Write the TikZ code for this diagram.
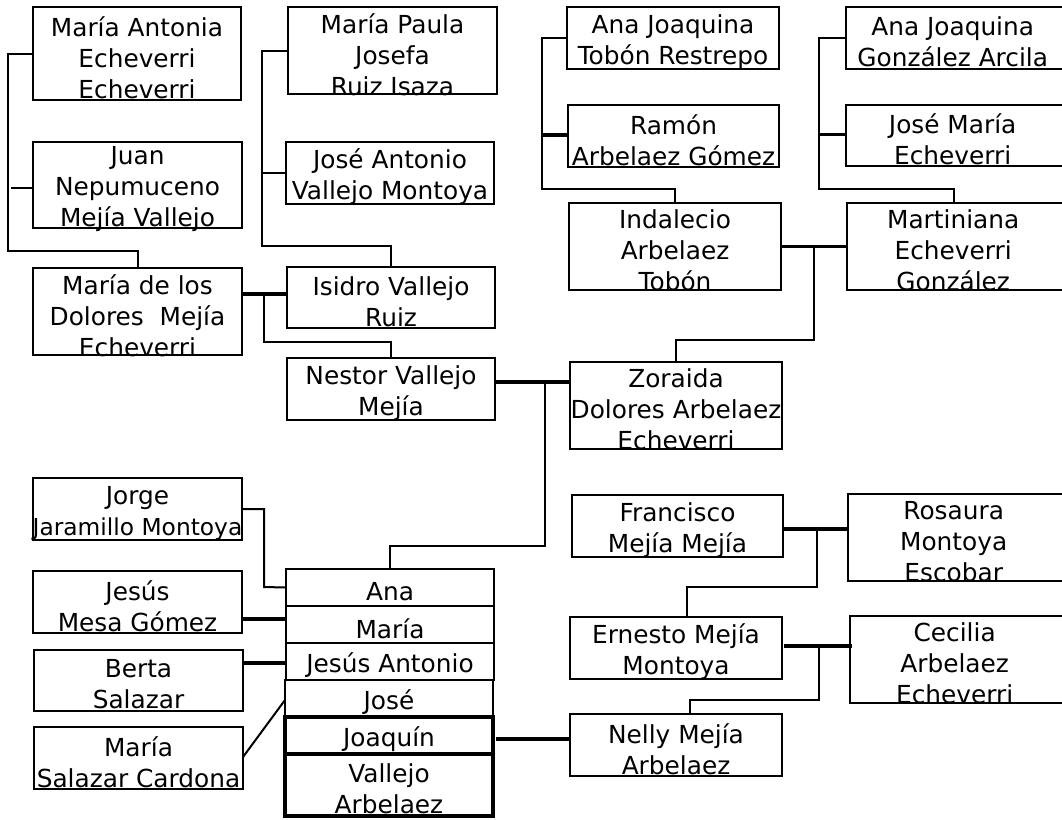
\documentclass[tikz,border=0pt]{standalone}
\usepackage{fontspec}
\setmainfont{DejaVu Sans}
\usetikzlibrary{fit,calc}
\begin{document}
\begin{tikzpicture}[x=0.75pt,y=-0.75pt,
  box/.style={draw=black, line width=1.8pt, inner sep=0pt, outer sep=0pt},
  boldbox/.style={box, line width=3pt},
  txt/.style={align=center, inner sep=0pt, font=\fontsize{18.6}{23.4}\selectfont, yshift=-3pt},
  rtxt/.style={txt, xshift=-2.5pt},
  thinl/.style={line width=1.5pt},
  thickl/.style={line width=2.6pt}]
\useasboundingbox (0,0) rectangle (1062,819);
\clip (0,0) rectangle (1062,819);
% ---------- boxes ----------
\node[box, fit={(33,7)(241,100)}, label={[txt]center:{María Antonia\\Echeverri\\Echeverri}}] (mae) {};
\node[box, fit={(33,142)(242,228)}, label={[txt]center:{Juan\\Nepumuceno\\Mejía Vallejo}}] (jnm) {};
\node[box, fit={(33,268)(242,355)}, label={[txt]center:{María de los\\Dolores\ \ Mejía\\Echeverri}}] (mdd) {};
\node[box, fit={(288,7)(497,94)}, label={[txt]center:{María Paula\\Josefa\\Ruiz Isaza}}] (mpj) {};
\node[box, fit={(286,142)(494,204)}, label={[txt]center:{José Antonio\\Vallejo Montoya}}] (jav) {};
\node[box, fit={(287,267)(495,328)}, label={[txt]center:{Isidro Vallejo\\Ruiz}}] (ivr) {};
\node[box, fit={(287,358)(495,420)}, label={[txt]center:{Nestor Vallejo\\Mejía}}] (nvm) {};
\node[box, fit={(567,7)(779,69)}, label={[txt]center:{Ana Joaquina\\Tobón Restrepo}}] (ajt) {};
\node[box, fit={(568,105)(779,167)}, label={[txt]center:{Ramón\\Arbelaez Gómez}}] (rag) {};
\node[box, fit={(569,203)(781,290)}, label={[txt]center:{Indalecio\\Arbelaez\\Tobón}}] (iat) {};
\node[box, fit={(846,7)(1066,69)}, label={[rtxt]center:{Ana Joaquina\\González Arcila}}] (ajg) {};
\node[box, fit={(846,105)(1066,166)}, label={[rtxt]center:{José María\\Echeverri}}] (jme) {};
\node[box, fit={(847,203)(1066,290)}, label={[rtxt]center:{Martiniana\\Echeverri\\González}}] (meg) {};
\node[box, fit={(570,362)(782,449)}, label={[txt]center:{Zoraida\\Dolores Arbelaez\\Echeverri}}] (zda) {};
\node[box, fit={(33,478)(242,540)}, label={[txt]center:{Jorge\\{\fontsize{17.5}{23.4}\selectfont Jaramillo Montoya}}}] (jjm) {};
\node[box, fit={(33,571)(242,633)}, label={[txt]center:{Jesús\\Mesa Gómez}}] (jmg) {};
\node[box, fit={(34,650)(243,711)}, label={[txt]center:{Berta\\Salazar}}] (bsa) {};
\node[box, fit={(34,727)(243,789)}, label={[txt]center:{María\\Salazar Cardona}}] (msc) {};
\node[box, fit={(286,569)(494,606)}, label={[txt]center:{Ana}}] (ana) {};
\node[box, fit={(286,606)(494,643)}, label={[txt]center:{María}}] (mar) {};
\node[box, fit={(286,643)(494,680)}, label={[txt]center:{Jesús Antonio}}] (jan) {};
\node[box, fit={(285,680)(493,717)}, label={[txt]center:{José}}] (jos) {};
\node[boldbox, fit={(285,717)(493,754)}, label={[txt]center:{Joaquín}}] (joa) {};
\node[boldbox, fit={(285,754)(493,816)}, label={[txt]center:{Vallejo\\Arbelaez}}] (vaa) {};
\node[box, fit={(572,495)(783,557)}, label={[txt]center:{Francisco\\Mejía Mejía}}] (fmm) {};
\node[box, fit={(848,494)(1066,581)}, label={[rtxt]center:{Rosaura\\Montoya\\Escobar}}] (rme) {};
\node[box, fit={(570,617)(782,679)}, label={[txt]center:{Ernesto Mejía\\Montoya}}] (emm) {};
\node[box, fit={(850,616)(1066,703)}, label={[rtxt]center:{Cecilia\\Arbelaez\\Echeverri}}] (cae) {};
\node[box, fit={(570,714)(782,776)}, label={[txt]center:{Nelly Mejía\\Arbelaez}}] (nma) {};
% ---------- junction coordinates ----------
\coordinate (c1) at (264,294);
\coordinate (c2) at (814,247);
\coordinate (c3) at (545,382);
\coordinate (c4) at (817,529);
\coordinate (c5) at (819,646);
% ---------- connectors ----------
\draw[thinl] (mae.west) -| (8,251) -| (mdd.north);
\draw[thinl] (jnm.west) ++(0,3) -- ++(-22,0);
\draw[thinl] (mpj.west) -| (262,246) -| (ivr.north);
\draw[thinl] (jav.west) -- ++(-23,0);
\draw[thickl] ($(mdd.north east)+(0,26)$) -- ($(ivr.north west)+(0,27)$);
\draw[thinl] (c1) |- ($(nvm.north)+(0,-16)$) -- (nvm.north);
\draw[thinl] (ajt.west) -| (542,189) -| (iat.north);
\draw[thickl] (rag.west) ++(0,-1) -- ++(-26,0);
\draw[thinl] (ajg.west) -| (819,189) -| ($(meg.north)+(-3,0)$);
\draw[thickl] (jme.west) ++(0,-1) -- ++(-27,0);
\draw[thickl] (iat.east) -- (meg.west);
\draw[thinl] (c2) |- ($(zda.north)+(0,-22)$) -- (zda.north);
\draw[thickl] ($(nvm.north east)+(0,24)$) -- ($(zda.north west)+(0,20)$);
\draw[thinl] (c3) |- ($(ana.north)+(0,-23)$) -- (ana.north);
\draw[thickl] ($(fmm.north east)+(0,34)$) -- ($(rme.north west)+(0,35)$);
\draw[thinl] (c4) |- (687,587) -- ($(emm.north)+(11,0)$);
\draw[thickl] ($(emm.north east)+(2,29)$) -- ($(cae.north west)+(2,30)$);
\draw[thinl] (c5) |- (690,700) -- ($(nma.north)+(14,0)$);
\draw[thinl] (jjm.east) -| (264,587) -- (ana.west);
\draw[thickl] ($(jmg.north east)+(0,48)$) -- ($(mar.north west)+(0,13)$);
\draw[thickl] ($(bsa.north east)+(0,13)$) -- ($(jan.north west)+(0,20)$);
\draw[thinl] ($(msc.north east)+(0,30)$) -- ($(jos.north west)+(0,20)$);
\draw[thickl] ($(joa.north east)+(3,22)$) -- ($(nma.north west)+(0,25)$);
\end{tikzpicture}
\end{document}
